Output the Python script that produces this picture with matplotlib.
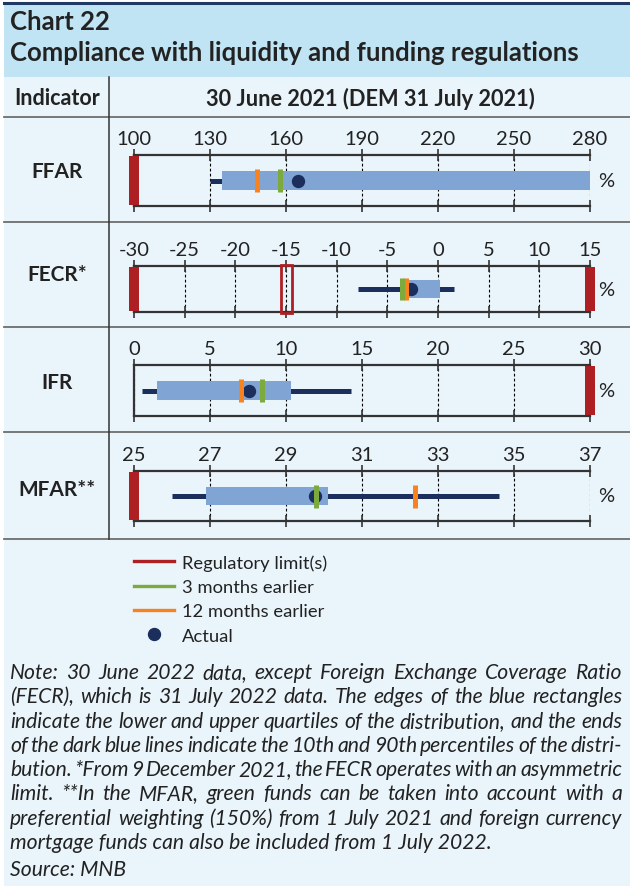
import matplotlib
matplotlib.use("Agg")
import matplotlib.pyplot as plt
from matplotlib.lines import Line2D
from matplotlib.patches import Rectangle

plt.rcParams['font.family'] = ['Lato', 'DejaVu Sans']
plt.rcParams['axes.unicode_minus'] = False

# data
indicators = ['FFAR', 'FECR*', 'IFR', 'MFAR**']
x_lo = [100, -30, 0, 25]
x_hi = [280, 15, 30, 37]
x_step = [30, 5, 5, 2]
p10 = [130, -7.9, 0.5, 26.0]
p90 = [300, 1.6, 14.3, 34.6]
q1 = [134.7, -3.2, 1.5, 26.9]
q3 = [300, 0.2, 10.3, 30.1]
actual = [164.9, -2.7, 7.55, 29.75]
earlier_3m = [157.6, -3.55, 8.4, 29.8]
earlier_12m = [148.6, -3.2, 7.05, 32.4]
limits = [[100], [-30, 15], [30], [25]]
asym_limit = -15  # FECR, hollow marker

legend_labels = ['Regulatory limit(s)', '3 months earlier', '12 months earlier', 'Actual']

note_lines = [
    "Note: 30 June 2022 data, except Foreign Exchange Coverage Ratio",
    "(FECR), which is 31 July 2022 data. The edges of the blue rectangles",
    "indicate the lower and upper quartiles of the distribution, and the ends",
    "of the dark blue lines indicate the 10th and 90th percentiles of the distri-",
    "bution. *From 9 December 2021, the FECR operates with an asymmetric",
    "limit. **In the MFAR, green funds can be taken into account with a",
    "preferential weighting (150%) from 1 July 2021 and foreign currency",
    "mortgage funds can also be included from 1 July 2022.",
]

RED = '#AE1F24'
GREEN = '#7DAA3C'
ORANGE = '#F7821E'
BOX = '#80A5D5'
NAVY = '#1B2E5C'
BG = '#E9F4FB'
BAND = '#C0E4F4'
TXT = '#222222'

W, H = 630, 887
fig = plt.figure(figsize=(W / 100, H / 100), dpi=100)
fig.patch.set_facecolor('white')


def fx(px):
    return px / W


def fy(py):
    return 1 - py / H


# backgrounds
fig.patches.append(Rectangle((fx(4), 0), 1, fy(5), transform=fig.transFigure,
                             facecolor=BG, edgecolor='none', zorder=-2))
fig.patches.append(Rectangle((fx(4), fy(78)), 1, (78 - 5) / H, transform=fig.transFigure,
                             facecolor=BAND, edgecolor='none', zorder=-1))
fig.add_artist(Line2D([fx(4), 1], [fy(4), fy(4)], color='#1F3864', lw=2.2))

fig.text(fx(10), fy(22), 'Chart 22', fontsize=18.5, fontweight='bold', color=TXT, va='center')
fig.text(fx(10), fy(53), 'Compliance with liquidity and funding regulations', fontsize=18.5,
         fontweight='bold', color=TXT, va='center')

# table grid
fig.text(fx(57), fy(99), 'Indicator', fontsize=15.5, fontweight='bold', color=TXT,
         ha='center', va='center')
fig.text(fx(370), fy(99), '30 June 2021 (DEM 31 July 2021)', fontsize=15.7, fontweight='bold',
         color=TXT, ha='center', va='center')
for ysep in [118, 223, 328, 433, 540]:
    fig.add_artist(Line2D([fx(4), 1], [fy(ysep), fy(ysep)], color='#6E6E6E', lw=1.3))
fig.add_artist(Line2D([fx(109), fx(109)], [fy(78), fy(540)], color='#333333', lw=1.1))

axes_top = [156, 267, 366, 472]
axes_bot = [207, 313, 417, 522]
label_y = [172, 275, 383, 490]

for i, name in enumerate(indicators):
    ax = fig.add_axes([fx(134), fy(axes_bot[i]), fx(590) - fx(134),
                       (axes_bot[i] - axes_top[i]) / H])
    ax.set_facecolor('none')
    ax.set_xlim(x_lo[i], x_hi[i])
    ax.set_ylim(0, 1)
    ticks = list(range(x_lo[i], x_hi[i] + 1, x_step[i]))
    ax.set_xticks(ticks)
    ax.set_yticks([])
    ax.xaxis.set_ticks_position('both')
    ax.tick_params(axis='x', which='both', direction='inout', length=8, width=1.2,
                   color='#333333', labeltop=True, labelbottom=False, labelsize=14.5,
                   labelcolor=TXT, pad=2)
    for side in ['top', 'bottom', 'left']:
        ax.spines[side].set_color('#333333')
        ax.spines[side].set_linewidth(1.6)
    ax.spines['right'].set_visible(False)
    ax.grid(axis='x', color='black', linestyle=(0, (2.5, 2)), lw=0.8)
    ax.set_axisbelow(True)

    ax.hlines(0.5, p10[i], p90[i], color=NAVY, lw=3.6, zorder=2)
    ax.barh(0.5, q3[i] - q1[i], left=q1[i], height=0.37, color=BOX, zorder=3)
    ax.plot(actual[i], 0.5, 'o', color=NAVY, markersize=8.6, zorder=4)
    ax.vlines(earlier_12m[i], 0.27, 0.73, color=ORANGE, lw=3.6, zorder=5)
    ax.vlines(earlier_3m[i], 0.27, 0.73, color=GREEN, lw=3.6, zorder=5)
    ax.vlines(limits[i], 0.02, 0.98, color=RED, lw=7.2, zorder=6, clip_on=False)
    if name.startswith('FECR'):
        half = 0.55 * (x_hi[i] - x_lo[i]) / 456 * 10
        ax.add_patch(Rectangle((asym_limit - half, -0.03), 2 * half, 1.06, facecolor='none',
                               edgecolor=RED, lw=2, zorder=6, clip_on=False))

    fig.text(fx(57), fy(label_y[i]), name, fontsize=15, fontweight='bold', color=TXT,
             ha='center', va='center')
    fig.text(fx(606), fy((axes_top[i] + axes_bot[i]) / 2), '%', fontsize=14.5, color=TXT,
             ha='center', va='center')

# legend
handles = [Line2D([], [], color=RED, lw=2.4),
           Line2D([], [], color=GREEN, lw=2.4),
           Line2D([], [], color=ORANGE, lw=2.4),
           Line2D([], [], color=NAVY, marker='o', markersize=8.6, linestyle='none')]
fig.legend(handles, legend_labels, loc='upper left', bbox_to_anchor=(fx(134), fy(555)),
           frameon=False, fontsize=13.2, handlelength=2.2, handletextpad=0.4,
           labelspacing=0.46, borderpad=0, borderaxespad=0, labelcolor=TXT)

# note, justified between x=10 and x=622
renderer = fig.canvas.get_renderer()
left_px, right_px = 10, 622
note_fs = 15.2
note_y0, note_dy = 673, 24.3
for k, line in enumerate(note_lines):
    ypos = fy(note_y0 + k * note_dy)
    if k == len(note_lines) - 1:
        fig.text(fx(left_px), ypos, line, fontsize=note_fs, style='italic', color=TXT, va='center')
        continue
    words = line.split(' ')
    objs = [fig.text(0, ypos, w, fontsize=note_fs, style='italic', color=TXT, va='center')
            for w in words]
    widths = [o.get_window_extent(renderer).width for o in objs]
    gap = (right_px - left_px - sum(widths)) / (len(words) - 1)
    xcur = left_px
    for o, wdt in zip(objs, widths):
        o.set_x(fx(xcur))
        xcur += wdt + gap

fig.text(fx(10), fy(870), 'Source: MNB', fontsize=note_fs, style='italic', color=TXT, va='center')

fig.savefig('out.png', dpi=100)
